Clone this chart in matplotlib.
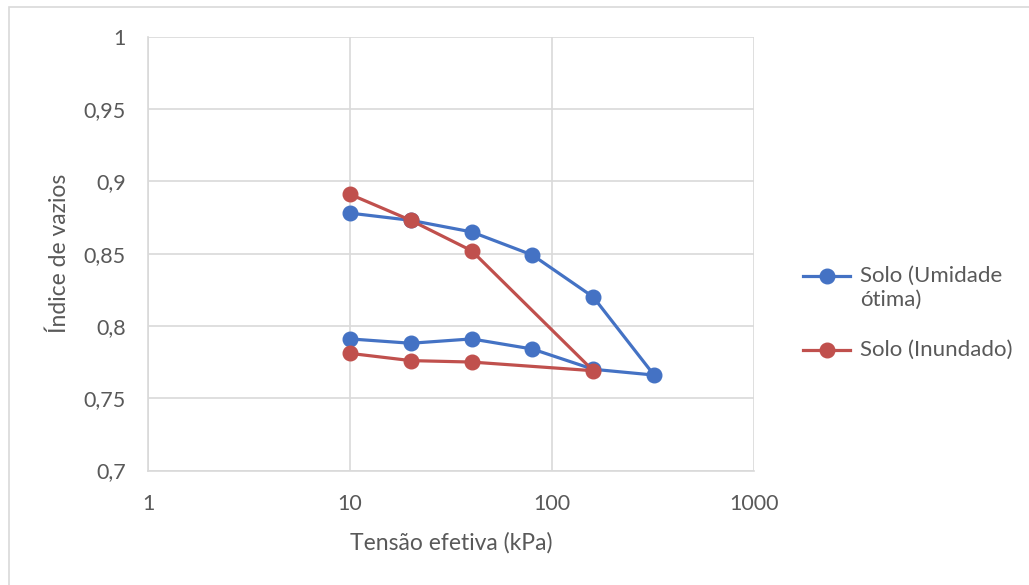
import matplotlib
matplotlib.use('Agg')
import matplotlib.pyplot as plt
from matplotlib.lines import Line2D
from matplotlib.patches import Rectangle
from matplotlib.ticker import FixedLocator, FuncFormatter

plt.rcParams['font.family'] = ['Lato', 'DejaVu Sans']

# tensao efetiva (kPa) x indice de vazios, carga e descarga
tensao_umidade = [10, 20, 40, 80, 160, 320, 160, 80, 40, 20, 10]
vazios_umidade = [0.878, 0.873, 0.865, 0.849, 0.820, 0.766,
                  0.770, 0.784, 0.791, 0.788, 0.791]

tensao_inundado = [10, 20, 40, 160, 40, 20, 10]
vazios_inundado = [0.891, 0.873, 0.852, 0.769, 0.775, 0.776, 0.781]

series_labels = ['Solo (Umidade\nótima)', 'Solo (Inundado)']
series_colors = ['#4472C4', '#C0504D']

x_ticks = [1, 10, 100, 1000]
y_ticks = [0.7, 0.75, 0.8, 0.85, 0.9, 0.95, 1.0]

txt = '#595959'
grid = '#d9d9d9'
W, H = 1029, 585


def px(x, y):
    # pixel position (from top-left) -> figure fraction
    return x / W, 1 - y / H


fig = plt.figure(figsize=(W / 100, H / 100), dpi=100)
fig.patches.append(Rectangle((9 / W, -0.1), 1.2, 1 - 7 / H + 0.1,
                             transform=fig.transFigure, fill=False,
                             edgecolor=grid, linewidth=1.2))

ax = fig.add_axes([148 / W, 1 - 470.5 / H, 606 / W, 433.8 / H])
ax.plot(tensao_umidade, vazios_umidade, color=series_colors[0], lw=2.3,
        marker='o', ms=10.5, zorder=3)
ax.plot(tensao_inundado, vazios_inundado, color=series_colors[1], lw=2.3,
        marker='o', ms=10.5, zorder=3)

ax.set_xscale('log')
ax.set_xlim(1, 1000)
ax.set_ylim(0.7, 1.0)
ax.xaxis.set_major_locator(FixedLocator(x_ticks))
ax.xaxis.set_minor_locator(FixedLocator([]))
ax.xaxis.set_major_formatter(FuncFormatter(lambda v, p: '%d' % v))
ax.yaxis.set_major_locator(FixedLocator(y_ticks))
ax.yaxis.set_major_formatter(
    FuncFormatter(lambda v, p: ('%g' % round(v, 2)).replace('.', ',')))

ax.grid(True, color=grid, lw=1.2)
ax.set_axisbelow(True)
for s in ['top', 'right']:
    ax.spines[s].set_visible(False)
for s in ['left', 'bottom']:
    ax.spines[s].set_color(grid)
    ax.spines[s].set_linewidth(1.2)
ax.tick_params(length=0, labelsize=15.5, colors=txt)
ax.tick_params(axis='x', pad=17)
ax.tick_params(axis='y', pad=16)

ax.set_xlabel('Tensão efetiva (kPa)', fontsize=16.5, color=txt, labelpad=13)
ax.set_ylabel('Índice de vazios', fontsize=16.5, color=txt, labelpad=10)

# legenda: marcador alinhado com a primeira linha do texto
for i, (lab, col) in enumerate(zip(series_labels, series_colors)):
    y = 276 + 74 * i
    x0, yf = px(803, y)
    x1, _ = px(850, y)
    fig.add_artist(Line2D([x0, x1], [yf, yf], color=col, lw=2.3,
                          transform=fig.transFigure))
    fig.add_artist(Line2D([(x0 + x1) / 2], [yf], color=col, marker='o',
                          ms=10.5, transform=fig.transFigure))
    tx, ty = px(860, y - 10)
    fig.text(tx, ty, lab, fontsize=16, color=txt, ha='left', va='top',
             linespacing=1.25)

fig.savefig('out.png', dpi=100)
